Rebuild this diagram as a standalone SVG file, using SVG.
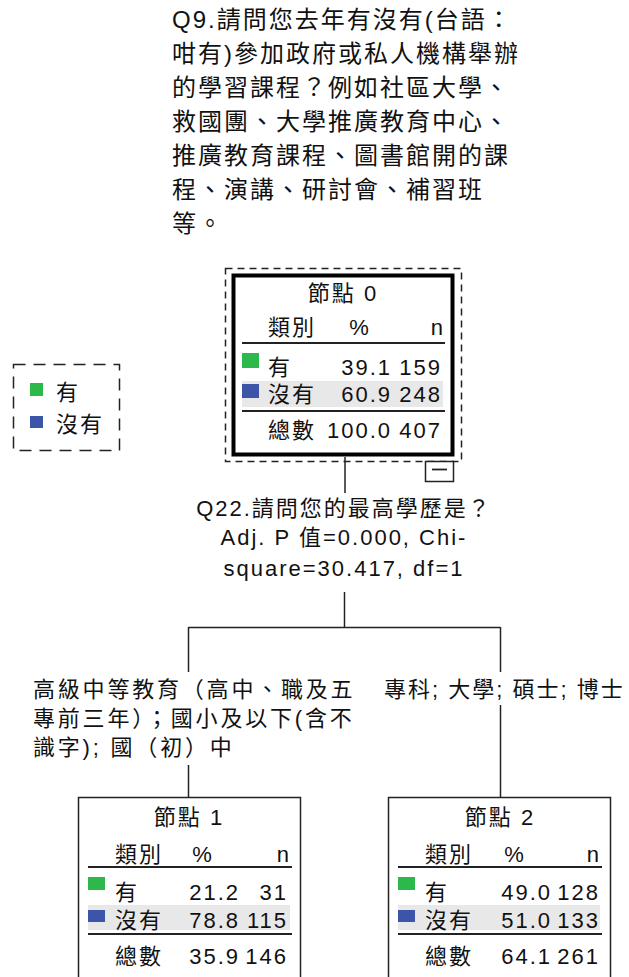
<svg xmlns="http://www.w3.org/2000/svg" width="629" height="977" viewBox="0 0 629 977">
<style>
text{font-family:"Liberation Sans","Noto Sans CJK TC",sans-serif;font-size:22px;letter-spacing:2px;fill:#111}
.t{font-size:24px;letter-spacing:2px}
.w{letter-spacing:2.8px}
.m{text-anchor:middle}
.e{text-anchor:end}
.dash{fill:none;stroke:#222;stroke-width:1.5}
.rule{stroke:#222;stroke-width:1.8}
.box{fill:#fff;stroke:#222;stroke-width:1.5}
.con{stroke:#222;stroke-width:1.5;fill:none}
.g{fill:#2db84b}
.b{fill:#3d55a8}
.band{fill:#e8e8e8}
</style>
<rect width="629" height="977" fill="#fff"/>
<g id="title">
<text class="t" x="172" y="28">Q9.請問您去年有沒有(台語：</text>
<text class="t" x="172" y="62">咁有)參加政府或私人機構舉辦</text>
<text class="t" x="172" y="96">的學習課程？例如社區大學、</text>
<text class="t" x="172" y="130">救國團、大學推廣教育中心、</text>
<text class="t" x="172" y="164">推廣教育課程、圖書館開的課</text>
<text class="t" x="172" y="198">程、演講、研討會、補習班</text>
<text class="t" x="172" y="232">等。</text>
</g>
<g id="legend">
<rect class="dash" x="13.5" y="364.5" width="106" height="86" stroke-dasharray="12 8"/>
<rect class="g" x="30" y="383" width="13" height="13"/>
<text x="56" y="400">有</text>
<rect class="b" x="30" y="416" width="13" height="12"/>
<text x="56" y="432">沒有</text>
</g>
<g id="connectors">
<line class="con" x1="345" y1="457" x2="345" y2="493"/>
<line class="con" x1="344.5" y1="592" x2="344.5" y2="628"/>
<line class="con" x1="188.5" y1="627.5" x2="500.5" y2="627.5"/>
<line class="con" x1="188.5" y1="627" x2="188.5" y2="672"/>
<line class="con" x1="188.5" y1="765" x2="188.5" y2="798"/>
<line class="con" x1="500.5" y1="627" x2="500.5" y2="672"/>
<line class="con" x1="500.5" y1="705" x2="500.5" y2="798"/>
</g>
<g id="node0">
<rect class="dash" x="225.5" y="268.5" width="236" height="193" stroke-dasharray="7 5"/>
<rect x="233.5" y="275.5" width="219" height="179" fill="#fff" stroke="#000" stroke-width="4"/>
<text class="m" x="343" y="301">節點 0</text>
<text x="268" y="335">類別</text>
<text class="m" x="360" y="335">%</text>
<text class="e" x="445" y="335">n</text>
<line class="rule" x1="242" y1="343" x2="445" y2="343"/>
<rect class="g" x="242" y="353" width="17" height="15"/>
<text x="268" y="375">有</text>
<text class="e" x="392" y="375">39.1</text>
<text class="e" x="442" y="375">159</text>
<rect class="band" x="242" y="381" width="201" height="26"/>
<rect class="b" x="242" y="384" width="17" height="14"/>
<text x="268" y="402">沒有</text>
<text class="e" x="392" y="402">60.9</text>
<text class="e" x="442" y="402">248</text>
<line class="rule" x1="242" y1="411" x2="445" y2="411"/>
<text x="268" y="438">總數</text>
<text class="e" x="392" y="438">100.0</text>
<text class="e" x="442" y="438">407</text>
<rect class="box" x="425.5" y="461.5" width="28" height="20"/>
<line class="rule" x1="432" y1="469.5" x2="447" y2="469.5"/>
</g>
<g id="split">
<text class="m" x="344" y="516">Q22.請問您的最高學歷是？</text>
<text class="m" x="344" y="545">Adj. P 值=0.000, Chi-</text>
<text class="m" x="344" y="576">square=30.417, df=1</text>
</g>
<g id="branch-left">
<text class="w" x="33" y="697">高級中等教育（高中、職及五</text>
<text class="w" x="33" y="726">專前三年）；國小及以下(含不</text>
<text class="w" x="33" y="755">識字); 國（初）中</text>
</g>
<g id="branch-right">
<text x="384" y="697">專科; 大學; 碩士; 博士</text>
</g>
<g id="node1">
<rect class="box" x="78.5" y="797.5" width="222" height="200"/>
<text class="m" x="189" y="825">節點 1</text>
<text x="115" y="862">類別</text>
<text class="m" x="203" y="862">%</text>
<text class="e" x="291" y="862">n</text>
<line class="rule" x1="88" y1="867" x2="292" y2="867"/>
<rect class="g" x="88" y="877" width="17" height="13"/>
<text x="115" y="900">有</text>
<text class="e" x="240" y="900">21.2</text>
<text class="e" x="288" y="900">31</text>
<rect class="band" x="88" y="905" width="202" height="25"/>
<rect class="b" x="88" y="910" width="17" height="12"/>
<text x="115" y="928">沒有</text>
<text class="e" x="240" y="928">78.8</text>
<text class="e" x="288" y="928">115</text>
<line class="rule" x1="88" y1="934" x2="292" y2="934"/>
<text x="115" y="964">總數</text>
<text class="e" x="240" y="964">35.9</text>
<text class="e" x="288" y="964">146</text>
</g>
<g id="node2">
<rect class="box" x="388.5" y="797.5" width="222" height="200"/>
<text class="m" x="500" y="825">節點 2</text>
<text x="425" y="862">類別</text>
<text class="m" x="515" y="862">%</text>
<text class="e" x="601" y="862">n</text>
<line class="rule" x1="398" y1="867" x2="602" y2="867"/>
<rect class="g" x="398" y="877" width="17" height="13"/>
<text x="425" y="900">有</text>
<text class="e" x="552" y="900">49.0</text>
<text class="e" x="600" y="900">128</text>
<rect class="band" x="398" y="905" width="202" height="25"/>
<rect class="b" x="398" y="910" width="17" height="12"/>
<text x="425" y="928">沒有</text>
<text class="e" x="552" y="928">51.0</text>
<text class="e" x="600" y="928">133</text>
<line class="rule" x1="398" y1="934" x2="602" y2="934"/>
<text x="425" y="964">總數</text>
<text class="e" x="552" y="964">64.1</text>
<text class="e" x="600" y="964">261</text>
</g>
</svg>
